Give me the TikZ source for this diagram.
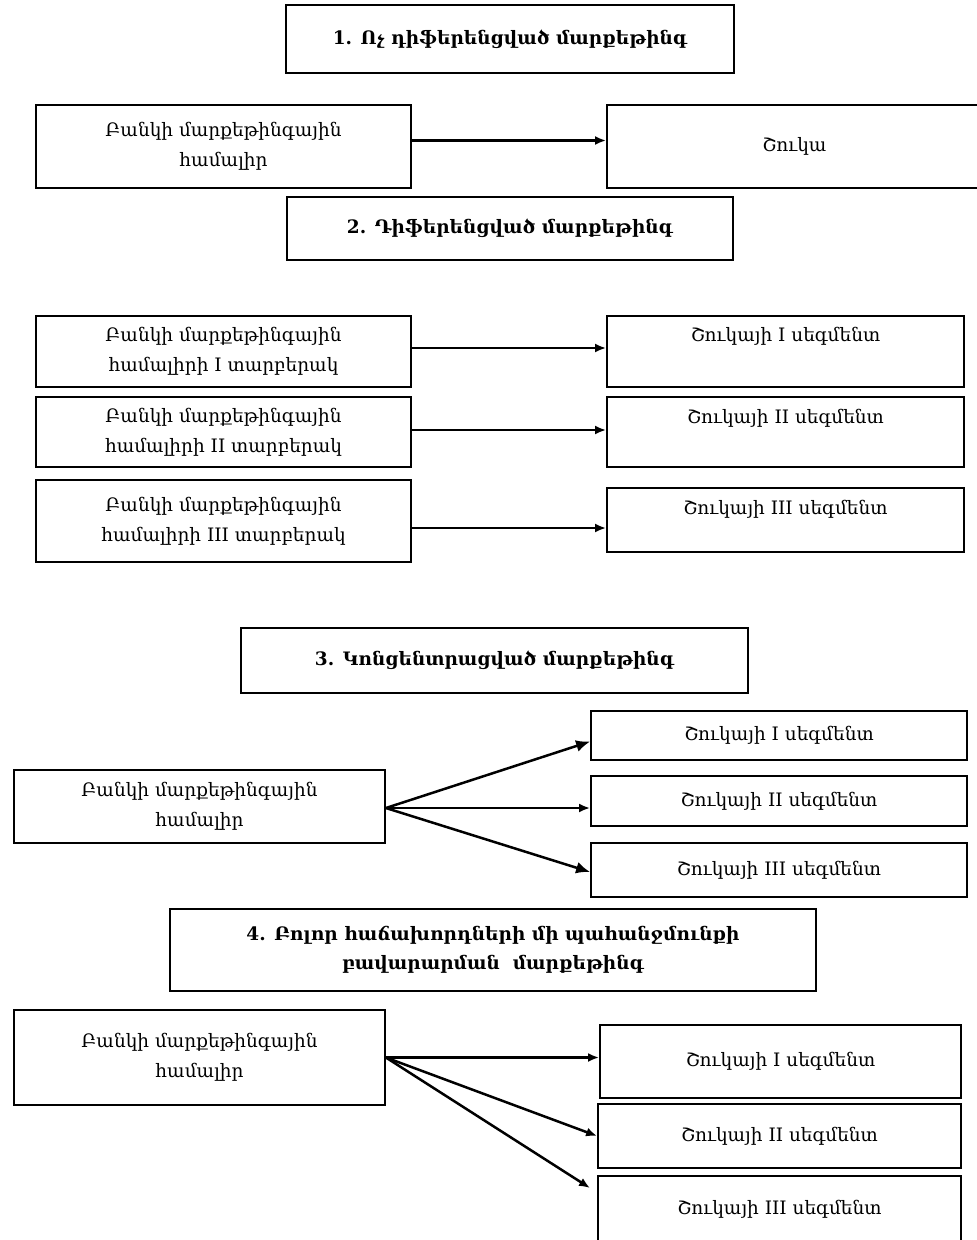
\documentclass[tikz,border=0pt]{standalone}
\usepackage{fontspec}
\setmainfont{DejaVu Serif}
\usetikzlibrary{arrows.meta}
\begin{document}
\begin{tikzpicture}[x=1pt,y=-1pt,
  txt/.style={font=\fontsize{18.5}{30}\selectfont},
  box/.style={draw, line width=1.8pt, inner sep=2pt, align=center, txt},
  head/.style={box, line width=1.5pt, font=\bfseries\fontsize{18.5}{29}\selectfont},
  arr/.style={line width=2.5pt, -{Latex[length=11pt,width=9pt]}},
  bigarr/.style={line width=2.5pt, -{Latex[length=14pt,width=12pt]}}]
\useasboundingbox (0,0) rectangle (977,1240);

% 1. undifferentiated
\node[head, minimum width=448pt, minimum height=68pt] (t1) at (510,39) {1. Ոչ դիֆերենցված մարքեթինգ};
\node[box, minimum width=375pt, minimum height=83pt] (a1) at (223.5,146.5) {Բանկի մարքեթինգային\\համալիր};
\node[box, minimum width=375pt, minimum height=83pt] (b1) at (794.5,146.5) {Շուկա};
\draw[arr] ([yshift=6pt]a1.east) -- ([yshift=6pt]b1.west);

% 2. differentiated
\node[head, minimum width=446pt, minimum height=63pt] (t2) at (510,228.5) {2. Դիֆերենցված մարքեթինգ};
\node[box, minimum width=375pt, minimum height=71pt] (a21) at (223.5,351.5) {Բանկի մարքեթինգային\\համալիրի I տարբերակ};
\node[box, minimum width=375pt, minimum height=70pt] (a22) at (223.5,432) {Բանկի մարքեթինգային\\համալիրի II տարբերակ};
\node[box, minimum width=375pt, minimum height=82pt] (a23) at (223.5,521) {Բանկի մարքեթինգային\\համալիրի III տարբերակ};
\node[box, minimum width=357pt, minimum height=71pt,
  label={[name=b21t, anchor=north, txt, inner sep=12pt]north:Շուկայի I սեգմենտ}] (b21) at (785.5,351.5) {};
\node[box, minimum width=357pt, minimum height=70pt,
  label={[name=b22t, anchor=north, txt, inner sep=13pt]north:Շուկայի II սեգմենտ}] (b22) at (785.5,432) {};
\node[box, minimum width=357pt, minimum height=64pt,
  label={[name=b23t, anchor=north, txt, inner sep=13pt]north:Շուկայի III սեգմենտ}] (b23) at (785.5,520) {};
\draw[arr] ([yshift=3.5pt]a21.east) -- ([yshift=3.5pt]b21.west);
\draw[arr] ([yshift=2pt]a22.east) -- ([yshift=2pt]b22.west);
\draw[arr] ([yshift=-7pt]a23.east) -- ([yshift=-8pt]b23.west);

% 3. concentrated
\node[head, minimum width=507pt, minimum height=65pt] (t3) at (494.5,660.5) {3. Կոնցենտրացված մարքեթինգ};
\node[box, minimum width=371pt, minimum height=73pt] (a3) at (199.5,806.5) {Բանկի մարքեթինգային\\համալիր};
\node[box, minimum width=376pt, minimum height=49pt] (b31) at (779,735.5) {Շուկայի I սեգմենտ};
\node[box, minimum width=376pt, minimum height=50pt] (b32) at (779,801) {Շուկայի II սեգմենտ};
\node[box, minimum width=376pt, minimum height=54pt] (b33) at (779,870) {Շուկայի III սեգմենտ};
\draw[bigarr] ([yshift=-1.5pt]a3.east) -- ([yshift=-6pt]b31.west);
\draw[arr] ([yshift=-1.5pt]a3.east) -- ([yshift=-7pt]b32.west);
\draw[bigarr] ([yshift=-1.5pt]a3.east) -- ([yshift=-2pt]b33.west);

% 4. single need of all customers
\node[head, minimum width=646pt, minimum height=82pt] (t4) at (493,950) {4. Բոլոր հաճախորդների մի պահանջմունքի\\բավարարման\ \ մարքեթինգ};
\node[box, minimum width=371pt, minimum height=95pt] (a4) at (199.5,1057.5) {Բանկի մարքեթինգային\\համալիր};
\node[box, minimum width=361pt, minimum height=73pt] (b41) at (780.5,1061.5) {Շուկայի I սեգմենտ};
\node[box, minimum width=363pt, minimum height=64pt] (b42) at (779.5,1136) {Շուկայի II սեգմենտ};
\node[box, minimum width=363pt, minimum height=66pt] (b43) at (779.5,1209) {Շուկայի III սեգմենտ};
\coordinate (e43) at (590,1188);
\draw[arr] (a4.east) -- ([yshift=4pt]b41.west);
\draw[arr] (a4.east) -- (b42.west);
\draw[arr] (a4.east) -- (e43);
\end{tikzpicture}
\end{document}
